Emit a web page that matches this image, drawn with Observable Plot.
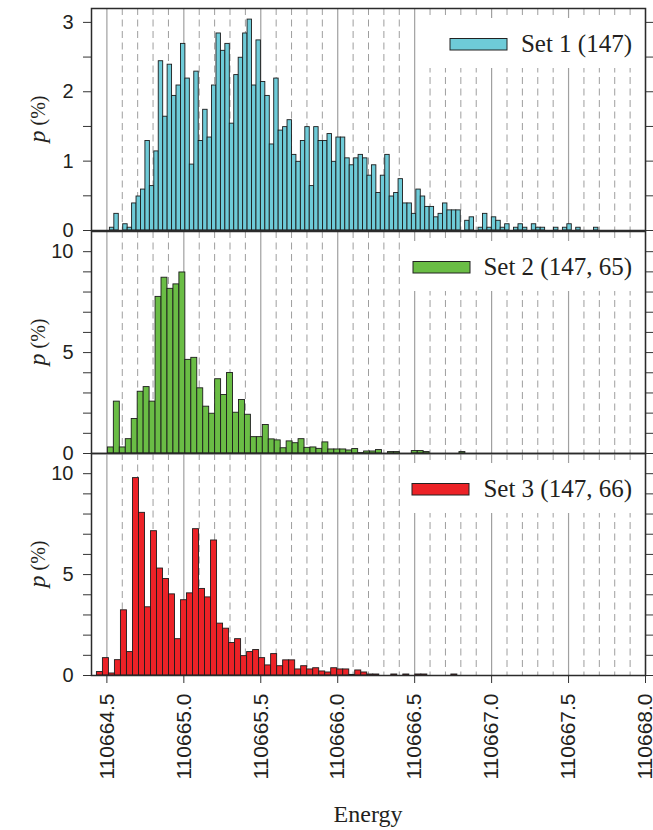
<!DOCTYPE html>
<html><head><meta charset="utf-8">
<script src="https://cdn.jsdelivr.net/npm/d3@7"></script>
<script src="https://cdn.jsdelivr.net/npm/@observablehq/plot@0.6"></script>
<style>
body{margin:0;background:#fff;}
#chart{position:relative;width:653px;height:830px;overflow:hidden;}
#chart svg{position:absolute;left:0;overflow:visible;background:transparent;}
</style></head><body><div id="chart"></div>
<script>
// ---- data ----
const xDomain = [110664.4, 110668.0];
const majorTicks = [110664.5, 110665.0, 110665.5, 110666.0, 110666.5, 110667.0, 110667.5, 110668.0];
const minorTicks = [
  110664.6, 110664.7, 110664.8, 110664.9,
  110665.1, 110665.2, 110665.3, 110665.4,
  110665.6, 110665.7, 110665.8, 110665.9,
  110666.1, 110666.2, 110666.3, 110666.4,
  110666.6, 110666.7, 110666.8, 110666.9,
  110667.1, 110667.2, 110667.3, 110667.4,
  110667.6, 110667.7, 110667.8, 110667.9];

const set1Start = 110664.5195, set1Width = 0.02886;
const set1Values = [
  0.04,0.24,0,0.09,0.04,0.39,0.49,0.59,1.29,0.64,
  1.14,2.44,1.64,2.39,1.94,2.09,2.69,2.19,0.95,2.29,
  1.29,1.74,1.34,2.09,2.84,2.59,2.69,1.54,2.24,2.49,
  2.84,3.04,2.09,2.74,2.14,1.94,1.24,2.19,1.44,1.49,
  1.59,1.09,0.99,1.29,1.49,0.64,1.49,1.29,1.29,1.39,
  0.99,1.34,1.34,1.04,0.94,1.04,1.09,1.04,0.79,0.94,
  0.54,0.79,1.09,0.49,0.54,0.74,0.39,0.39,0.24,0.59,
  0.49,0.34,0.34,0.19,0.24,0.39,0.29,0.29,0.29,0,
  0.14,0.19,0,0.04,0.24,0.04,0.19,0.14,0.04,0.09,
  0,0.04,0.09,0.04,0,0.09,0.04,0.04,0,0,
  0.04,0,0.04,0.09,0,0.04,0,0,0,0.04];

const set2Start = 110664.5065, set2Width = 0.03872;
const set2Values = [
  0.30,2.57,0.30,0.71,1.71,3.06,3.29,2.57,7.76,8.71,
  8.16,8.38,8.97,4.64,4.74,3.23,2.32,1.97,3.68,2.90,
  3.99,2.02,2.65,1.92,0.81,0.81,1.41,0.70,0.65,0.26,
  0.60,0.51,0.71,0.28,0.30,0.23,0.55,0.20,0.20,0.20,
  0.15,0.22,0.02,0.10,0.10,0.17,0,0.07,0.07,0,
  0,0.12,0.12,0.07,0,0,0,0,0,0.07];

const set3Start = 110664.4351, set3Width = 0.03904;
const set3Values = [
  0.17,0.86,0.10,0.76,3.23,1.16,9.78,8.06,3.38,7.15,
  5.30,4.78,4.02,1.80,3.73,4.07,7.25,4.29,3.87,6.69,
  2.57,2.32,1.61,1.80,0.96,1.16,1.26,0.86,0.50,1.06,
  0.46,0.75,0.75,0.30,0.46,0.30,0.36,0.20,0.15,0.36,
  0.30,0.30,0.03,0.25,0.15,0.05,0.05,0,0,0.05,
  0,0.05,0,0.05,0.05,0,0,0,0,0.05];

const yTicksSmall = [0, 0.5, 1, 1.5, 2, 2.5, 3];
const yLabelsSmall = [0, 1, 2, 3];
const yTicksLarge = [0, 1, 2, 3, 4, 5, 6, 7, 8, 9, 10];
const yLabelsLarge = [0, 5, 10];
const legendLabels = ["Set 1 (147)", "Set 2 (147, 65)", "Set 3 (147, 66)"];
const xLabel = "Energy";
const colors = ["#6ecbd8", "#6abd45", "#ec2227"];

// ---- layout ----
const serif = "'Liberation Serif','Times New Roman',serif";
const sans = "'Liberation Sans',Arial,sans-serif";
const ink = "#231f20";
const panels = [
  {values:set1Values,start:set1Start,width:set1Width,fill:colors[0],yMax:3.2,yTicks:yTicksSmall,yLabels:yLabelsSmall,legend:legendLabels[0],boxLeft:422,swatchLeft:450,frameTop:8,marginBottom:4,xAxis:false},
  {values:set2Values,start:set2Start,width:set2Width,fill:colors[1],yMax:11,yTicks:yTicksLarge,yLabels:yLabelsLarge,legend:legendLabels[1],boxLeft:405,swatchLeft:413,frameTop:230.5,marginBottom:4,xAxis:false},
  {values:set3Values,start:set3Start,width:set3Width,fill:colors[2],yMax:11,yTicks:yTicksLarge,yLabels:yLabelsLarge,legend:legendLabels[2],boxLeft:405,swatchLeft:412,frameTop:453,marginBottom:155,xAxis:true}
];
const H = 222, mt = 8;
const chart = document.getElementById("chart");

for (const p of panels) {
  const bars = p.values.map((v, i) => ({x1: p.start + i * p.width, x2: p.start + (i + 1) * p.width, v})).filter(d => d.v > 0);
  const marks = [
    Plot.ruleX(minorTicks, {stroke: "#9e9e9e", strokeWidth: 1, strokeDasharray: "7,4.5"}),
    Plot.ruleX(majorTicks, {stroke: "#a0a0a0", strokeWidth: 1.2}),
    Plot.rect(bars, {x1: "x1", x2: "x2", y1: 0, y2: "v", fill: p.fill, stroke: "#1c1c1c", strokeWidth: 0.9}),
    Plot.axisY({ticks: p.yTicks, tickSize: 8, tickPadding: 10, tickFormat: d => p.yLabels.includes(d) ? String(d) : "", label: null, stroke: "#333"}),
    Plot.axisY({anchor: "right", ticks: p.yTicks, tickSize: 8, tickFormat: () => "", label: null, stroke: "#333"})
  ];
  if (p.xAxis) marks.push(Plot.axisX({ticks: majorTicks, tickSize: 8, tickPadding: 10, tickRotate: -90, tickFormat: d3.format(".1f"), label: null, fontSize: 21, stroke: "#333"}));
  marks.push(Plot.frame({stroke: "#2b2b2b", strokeWidth: 1.5}));
  const svg = Plot.plot({
    width: 653, height: mt + H + p.marginBottom,
    marginTop: mt, marginBottom: p.marginBottom, marginLeft: 91, marginRight: 8,
    x: {domain: xDomain, axis: p.xAxis ? undefined : null},
    y: {domain: [0, p.yMax]},
    style: {fontFamily: sans, fontSize: "20px", color: ink, background: "transparent", overflow: "visible"},
    marks
  });
  const top = p.frameTop - mt;
  svg.style.top = top + "px";
  const s = d3.select(svg);
  // legend
  const g = s.append("g");
  g.append("rect").attr("x", p.boxLeft).attr("y", mt + 10).attr("width", 644 - p.boxLeft).attr("height", 50).attr("fill", "#fff");
  g.append("rect").attr("x", p.swatchLeft).attr("y", mt + 30.5).attr("width", 57).attr("height", 11.5).attr("fill", p.fill).attr("stroke", "#222").attr("stroke-width", 1);
  g.append("text").attr("x", 632).attr("y", mt + 44).attr("text-anchor", "end").attr("font-family", serif).attr("font-size", 25).attr("fill", ink).text(p.legend);
  // y label
  const yl = s.append("text").attr("transform", `translate(45,${mt + H / 2}) rotate(-90)`).attr("text-anchor", "middle").attr("font-family", serif).attr("fill", ink);
  yl.append("tspan").attr("font-style", "italic").attr("font-size", 24).text("p");
  yl.append("tspan").attr("font-size", 20).text(" (%)");
  if (p.xAxis) {
    s.append("text").attr("x", 368).attr("y", 822 - top).attr("text-anchor", "middle").attr("font-family", serif).attr("font-size", 24).attr("fill", ink).text(xLabel);
  }
  chart.appendChild(svg);
}
</script></body></html>
